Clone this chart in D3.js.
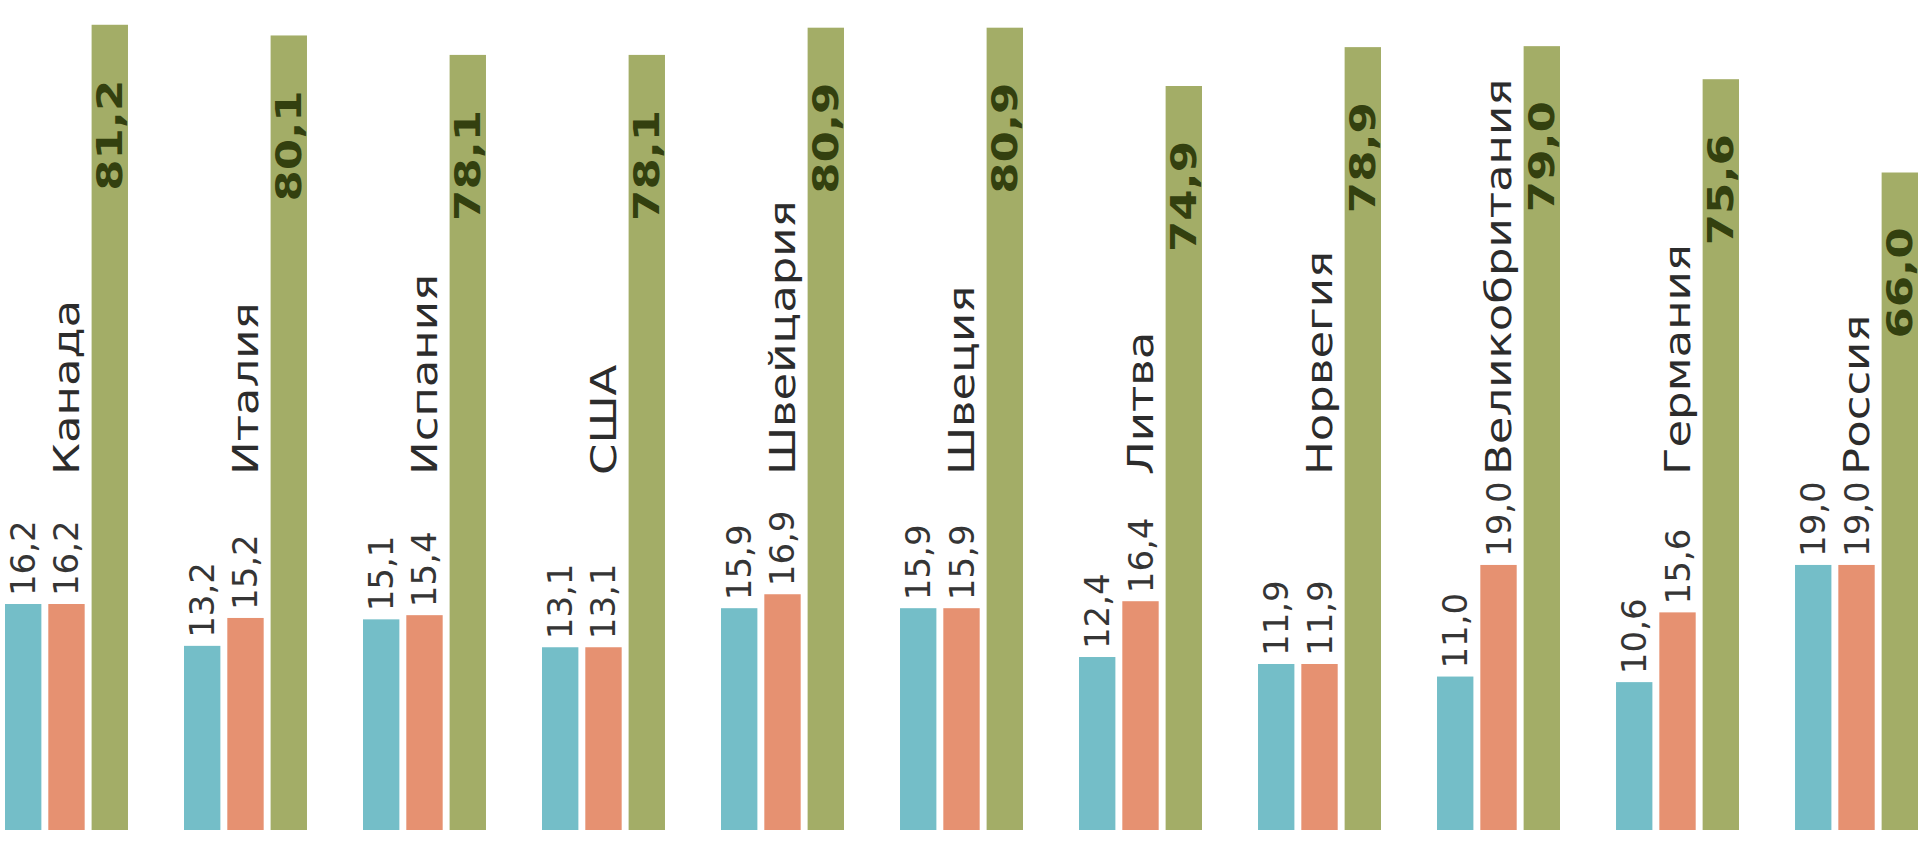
<!DOCTYPE html>
<html>
<head>
<meta charset="utf-8">
<script src="https://d3js.org/d3.v7.min.js"></script>
<style>
  html, body { margin: 0; padding: 0; background: #fff; }
  svg { display: block; }
  .val { font-family: "DejaVu Sans", sans-serif; font-size: 34px; fill: #353535; }
  .val-big { font-family: "DejaVu Sans", sans-serif; font-size: 36px; font-weight: bold; fill: #33400f; }
  .country { font-family: "DejaVu Sans", sans-serif; font-size: 36px; fill: #2c2c2c; }
</style>
</head>
<body>
<div id="chart"></div>
<script>
// values
const countries = ["Канада", "Италия", "Испания", "США", "Швейцария", "Швеция", "Литва", "Норвегия", "Великобритания", "Германия", "Россия"];
const seriesTeal = [16.2, 13.2, 15.1, 13.1, 15.9, 15.9, 12.4, 11.9, 11.0, 10.6, 19.0];
const seriesSalmon = [16.2, 15.2, 15.4, 13.1, 16.9, 15.9, 16.4, 11.9, 19.0, 15.6, 19.0];
const seriesGreen = [81.2, 80.1, 78.1, 78.1, 80.9, 80.9, 74.9, 78.9, 79.0, 75.6, 66.0];

const width = 1920, height = 842;
const baseline = 830;

const colors = { teal: "#74bec8", salmon: "#e69171", green: "#a3ad67" };

// numbers are written with a decimal comma
const ru = d3.formatLocale({ decimal: ",", thousands: " ", grouping: [3], currency: ["", ""] });
const fmt = ru.format(".1f");

const svg = d3.select("#chart").append("svg")
    .attr("width", width)
    .attr("height", height);

// groups along x
const x0 = d3.scaleBand()
    .domain(countries)
    .range([5, 1918])
    .paddingInner(0.313)
    .paddingOuter(0);

const x1 = d3.scaleBand()
    .domain(["teal", "salmon", "green"])
    .range([0, x0.bandwidth()])
    .paddingInner(0.16);

// two value axes: the small shares on one, the big share on a secondary axis
const ySmall = d3.scaleLinear().domain([0, 20]).range([baseline, baseline - 279]);
const yBig = d3.scaleLinear().domain([-1.65, 82]).range([baseline, baseline - 813]);

const rows = countries.map((c, i) => ({
    country: c,
    teal: seriesTeal[i],
    salmon: seriesSalmon[i],
    green: seriesGreen[i]
}));

const group = svg.selectAll(".group")
    .data(rows)
    .enter().append("g")
    .attr("class", "group")
    .attr("transform", d => `translate(${x0(d.country)},0)`);

const small = ["teal", "salmon"];

small.forEach(key => {
    group.append("rect")
        .attr("x", x1(key))
        .attr("y", d => ySmall(d[key]))
        .attr("width", x1.bandwidth())
        .attr("height", d => baseline - ySmall(d[key]))
        .attr("fill", colors[key]);

    group.append("text")
        .attr("class", "val")
        .attr("transform", d => `translate(${x1(key) + x1.bandwidth() / 2},${ySmall(d[key]) - 8}) rotate(-90)`)
        .attr("dominant-baseline", "central")
        .attr("text-anchor", "start")
        .text(d => fmt(d[key]));
});

group.append("rect")
    .attr("x", x1("green"))
    .attr("y", d => yBig(d.green))
    .attr("width", x1.bandwidth())
    .attr("height", d => baseline - yBig(d.green))
    .attr("fill", colors.green);

// label inside the tall bar, a bit below its top
group.append("text")
    .attr("class", "val-big")
    .attr("transform", d => `translate(${x1("green") + x1.bandwidth() / 2},${Math.max(yBig(d.green) + 55, 78)}) rotate(-90) scale(1.25,1)`)
    .attr("dominant-baseline", "central")
    .attr("text-anchor", "end")
    .text(d => fmt(d.green));

// country name above the salmon bar (the source font is wide, so stretch it)
group.append("text")
    .attr("class", "country")
    .attr("transform", `translate(${x1("salmon") + x1.bandwidth() / 2},475) rotate(-90) scale(1.25,1)`)
    .attr("dominant-baseline", "central")
    .attr("text-anchor", "start")
    .text(d => d.country);
</script>
</body>
</html>
